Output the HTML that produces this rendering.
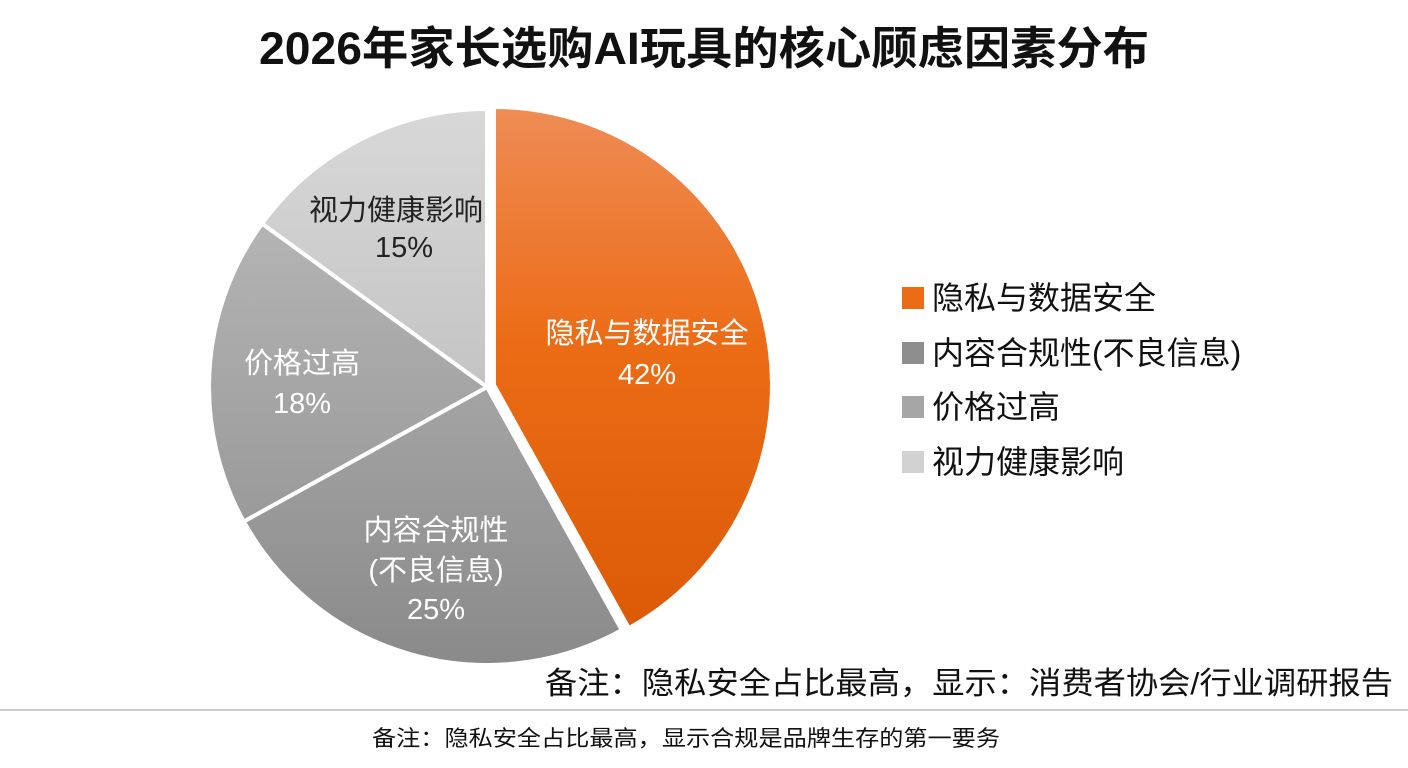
<!DOCTYPE html>
<html><head><meta charset="utf-8"><style>
body{margin:0;width:1408px;height:768px;background:#fff;overflow:hidden;font-family:"Liberation Sans","Noto Sans CJK SC",sans-serif;}
</style></head><body>
<svg width="1408" height="768" xmlns="http://www.w3.org/2000/svg" style="position:absolute;left:0;top:0">
<defs>
<linearGradient id="o" x1="0" y1="0" x2="0" y2="1"><stop offset="0" stop-color="#ef8c55"/><stop offset="0.45" stop-color="#ec6c16"/><stop offset="1" stop-color="#dc5a06"/></linearGradient>
<linearGradient id="g1" x1="0" y1="0" x2="0" y2="1"><stop offset="0" stop-color="#a4a4a4"/><stop offset="1" stop-color="#8a8a8a"/></linearGradient>
<linearGradient id="g2" x1="0" y1="0" x2="0" y2="1"><stop offset="0" stop-color="#b4b4b4"/><stop offset="1" stop-color="#9a9a9a"/></linearGradient>
<linearGradient id="g3" x1="0" y1="0" x2="0" y2="1"><stop offset="0" stop-color="#d8d8d8"/><stop offset="1" stop-color="#c4c4c4"/></linearGradient>
</defs>
<text x="704" y="64" text-anchor="middle" font-size="45" font-weight="bold" fill="#111" textLength="890" lengthAdjust="spacingAndGlyphs">2026年家长选购AI玩具的核心顾虑因素分布</text>
<g stroke="#fff" stroke-width="4" stroke-linejoin="round">
<path d="M494,385 L494,107 A278,278 0 0 1 628.8,628.1 Z" fill="url(#o)"/>
<path d="M487,387 L621.8,630.1 A278,278 0 0 1 243.8,521.5 Z" fill="url(#g1)"/>
<path d="M487,387 L243.8,521.5 A278,278 0 0 1 262.1,223.6 Z" fill="url(#g2)"/>
<path d="M487,387 L262.1,223.6 A278,278 0 0 1 487,109 Z" fill="url(#g3)"/>
</g>
<g font-size="29" text-anchor="middle">
<text x="396" y="220" fill="#222">视力健康影响</text>
<text x="404" y="257" fill="#222">15%</text>
<text x="647" y="343" fill="#fff">隐私与数据安全</text>
<text x="647" y="384" fill="#fff">42%</text>
<text x="302" y="373" fill="#fff">价格过高</text>
<text x="302" y="413" fill="#fff">18%</text>
<text x="436" y="540" fill="#fff">内容合规性</text>
<text x="436" y="580" fill="#fff">(不良信息)</text>
<text x="436" y="619" fill="#fff">25%</text>
</g>
<rect x="902" y="287" width="22" height="22" fill="#ec6c16"/>
<rect x="902" y="342" width="22" height="22" fill="#8e8e8e"/>
<rect x="902" y="396" width="22" height="22" fill="#a6a6a6"/>
<rect x="902" y="451" width="22" height="22" fill="#d2d2d2"/>
<g font-size="32" fill="#111">
<text x="932" y="309">隐私与数据安全</text>
<text x="932" y="364">内容合规性(不良信息)</text>
<text x="932" y="418">价格过高</text>
<text x="932" y="473">视力健康影响</text>
</g>
<text x="1393" y="694" text-anchor="end" font-size="31" fill="#111" textLength="848" lengthAdjust="spacingAndGlyphs">备注：隐私安全占比最高，显示：消费者协会/行业调研报告</text>
<line x1="0" y1="710" x2="1408" y2="710" stroke="#bbb" stroke-width="1.5"/>
<text x="686" y="746" text-anchor="middle" font-size="22" fill="#111" textLength="628" lengthAdjust="spacingAndGlyphs">备注：隐私安全占比最高，显示合规是品牌生存的第一要务</text>
</svg>
</body></html>
